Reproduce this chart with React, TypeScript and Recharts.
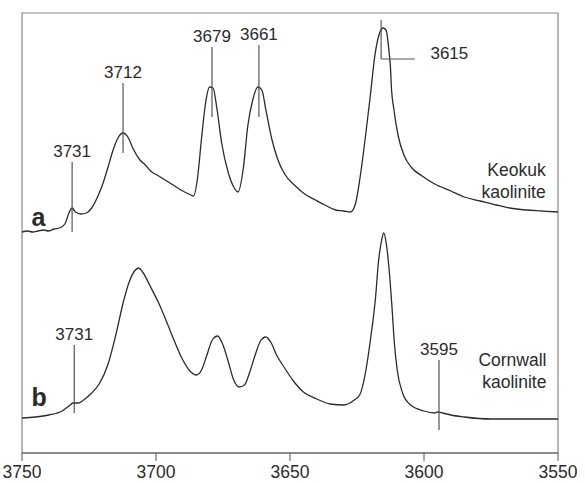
import {
  LineChart,
  Line,
  XAxis,
  YAxis,
  ReferenceArea,
  ReferenceLine,
  ReferenceDot,
} from "recharts";

// wavenumber (cm-1) and relative absorbance for the two kaolinite spectra
const keokukWavenumbers = [
  3750, 3748, 3746, 3744, 3742, 3740, 3738, 3736, 3734, 3732.5, 3731.3, 3730, 3728, 3726,
  3724, 3722, 3720, 3718, 3716, 3714, 3712.3, 3710.5, 3708.5, 3706, 3704, 3702, 3699, 3696,
  3693, 3690, 3687, 3686, 3684.5, 3683, 3681.5, 3680, 3678.7, 3677.2, 3675.5, 3673, 3671,
  3669.4, 3667.5, 3665.7, 3664, 3662, 3660.5, 3659, 3656.7, 3654.5, 3652, 3648, 3644.5,
  3640.5, 3637, 3633, 3630, 3627.5, 3625.7, 3624, 3622, 3620, 3618.3, 3616.8, 3615.3, 3614.2,
  3613, 3612.4, 3612.2, 3611.2, 3609.7, 3607.5, 3604.5, 3600.7, 3596, 3590, 3585, 3579, 3573,
  3568, 3562, 3556, 3550,
];
const keokukValues = [
  221, 222, 221, 222, 223, 222, 224, 225, 229, 240, 245, 241, 239, 240,
  245, 255, 268, 285, 303, 316, 320, 316, 304, 293, 288, 282, 277, 272,
  267, 262, 258, 257, 275, 315, 350, 366, 365, 343, 310, 280, 266,
  261, 283, 328, 352, 366, 363, 343, 313, 293, 279, 267, 259,
  253, 248, 243, 242, 241, 248, 273, 313, 358, 398, 418, 425, 423,
  400, 380, 367, 343, 318, 298, 285, 277, 269, 262, 256, 252, 248,
  245, 243, 242, 241,
];

const cornwallWavenumbers = [
  3750, 3745, 3740, 3735, 3732, 3731, 3729, 3727, 3724, 3721, 3718, 3715, 3712, 3710,
  3708, 3706.5, 3705, 3702, 3699, 3696, 3693, 3690, 3687, 3685, 3683, 3681, 3679, 3677,
  3675, 3673, 3671, 3669, 3667, 3665, 3663, 3661, 3659, 3657, 3655, 3652, 3649, 3645,
  3640, 3635, 3630, 3626, 3624, 3622, 3620, 3618, 3617, 3616, 3615, 3614, 3613, 3612,
  3611, 3610, 3608, 3605, 3600, 3596, 3595, 3593, 3590, 3585, 3575, 3565, 3550,
];
const cornwallValues = [
  35, 36, 38, 42, 48, 50, 50, 53, 60, 70, 88, 118, 153, 171,
  182, 185, 181, 166, 150, 131, 111, 93, 81, 78, 83, 98, 113, 117,
  108, 91, 73, 66, 68, 81, 98, 112, 116, 110, 98, 85, 73, 61,
  54, 49, 48, 53, 58, 78, 113, 158, 191, 210, 220, 208, 183, 148,
  108, 83, 60, 48, 42, 40, 41, 40, 38, 36, 34, 34, 34,
];

const xTicks = [3750, 3700, 3650, 3600, 3550];

// marker lines: wavenumber, bottom and top of the line, and text
const peakMarkers = [
  { x: 3731.3, y1: 221, y2: 291, label: "3731" },
  { x: 3712.3, y1: 300, y2: 370, label: "3712" },
  { x: 3679.1, y1: 336, y2: 406, label: "3679" },
  { x: 3661.6, y1: 336, y2: 408, label: "3661" },
  { x: 3730.5, y1: 40, y2: 108, label: "3731" },
  { x: 3594.4, y1: 23, y2: 93, label: "3595" },
];

const keokukData = keokukWavenumbers.map((w, i) => ({ w, a: keokukValues[i] }));
const cornwallData = cornwallWavenumbers.map((w, i) => ({ w, b: cornwallValues[i] }));

const FONT = "'Liberation Sans', Arial, sans-serif";
const INK = "#2b2b2b";

function TextLabel({ viewBox, lines, anchor = "end", size = 17, weight = "normal" }: any) {
  const cx = viewBox.x + viewBox.width / 2;
  const cy = viewBox.y + viewBox.height / 2;
  const lh = size * 1.3;
  const start = cy - ((lines.length - 1) * lh) / 2;
  return (
    <text
      x={cx}
      y={start}
      textAnchor={anchor}
      dominantBaseline="central"
      fontFamily={FONT}
      fontSize={size}
      fontWeight={weight}
      fill={INK}
    >
      {lines.map((l: string, i: number) => (
        <tspan key={i} x={cx} y={start + i * lh}>
          {l}
        </tspan>
      ))}
    </text>
  );
}

export default function App() {
  return (
    <div style={{ position: "absolute", left: 0, top: 0, background: "#fff" }}>
      <LineChart
        width={585}
        height={483}
        margin={{ top: 13, right: 27, left: 22, bottom: 0 }}
      >
        <XAxis
          dataKey="w"
          type="number"
          domain={[3550, 3750]}
          reversed
          ticks={xTicks}
          allowDuplicatedCategory={false}
          height={30}
          tickSize={8}
          tickMargin={5}
          stroke="#555"
          tick={{ fontSize: 17.5, fill: INK, fontFamily: FONT }}
          tickLine={{ stroke: "#555" }}
        />
        <YAxis hide type="number" domain={[0, 440]} />
        <ReferenceArea
          x1={3750}
          x2={3550}
          y1={0}
          y2={440}
          fill="none"
          stroke="#888"
          strokeWidth={1.2}
        />
        <Line
          data={keokukData}
          dataKey="a"
          type="monotone"
          stroke={INK}
          strokeWidth={1.3}
          dot={false}
          isAnimationActive={false}
        />
        <Line
          data={cornwallData}
          dataKey="b"
          type="monotone"
          stroke={INK}
          strokeWidth={1.3}
          dot={false}
          isAnimationActive={false}
        />
        {peakMarkers.map((m, i) => (
          <ReferenceLine
            key={"l" + i}
            segment={[
              { x: m.x, y: m.y1 },
              { x: m.x, y: m.y2 },
            ]}
            stroke="#555"
            strokeWidth={1.2}
          />
        ))}
        {peakMarkers.map((m, i) => (
          <ReferenceDot
            key={"t" + i}
            x={m.x}
            y={m.y2}
            r={0}
            stroke="none"
            label={{
              value: m.label,
              position: "top",
              offset: 5,
              fontSize: 17,
              fill: INK,
              fontFamily: FONT,
            }}
          />
        ))}
        {/* 3615 band: elbow leader out to the right */}
        <ReferenceLine
          segment={[
            { x: 3616, y: 394 },
            { x: 3616, y: 433 },
          ]}
          stroke="#555"
          strokeWidth={1.2}
        />
        <ReferenceLine
          segment={[
            { x: 3616, y: 394 },
            { x: 3603.4, y: 394 },
          ]}
          stroke="#555"
          strokeWidth={1.2}
        />
        <ReferenceDot
          x={3597.6}
          y={400}
          r={0}
          stroke="none"
          label={(p: any) => <TextLabel {...p} lines={["3615"]} anchor="start" />}
        />
        <ReferenceDot
          x={3554.6}
          y={272}
          r={0}
          stroke="none"
          label={(p: any) => <TextLabel {...p} lines={["Keokuk", "kaolinite"]} size={17.5} />}
        />
        <ReferenceDot
          x={3554.3}
          y={82}
          r={0}
          stroke="none"
          label={(p: any) => <TextLabel {...p} lines={["Cornwall", "kaolinite"]} size={17.5} />}
        />
        <ReferenceDot
          x={3746.5}
          y={236}
          r={0}
          stroke="none"
          label={(p: any) => (
            <TextLabel {...p} lines={["a"]} anchor="start" size={25} weight="bold" />
          )}
        />
        <ReferenceDot
          x={3746.5}
          y={56}
          r={0}
          stroke="none"
          label={(p: any) => (
            <TextLabel {...p} lines={["b"]} anchor="start" size={25} weight="bold" />
          )}
        />
      </LineChart>
    </div>
  );
}
